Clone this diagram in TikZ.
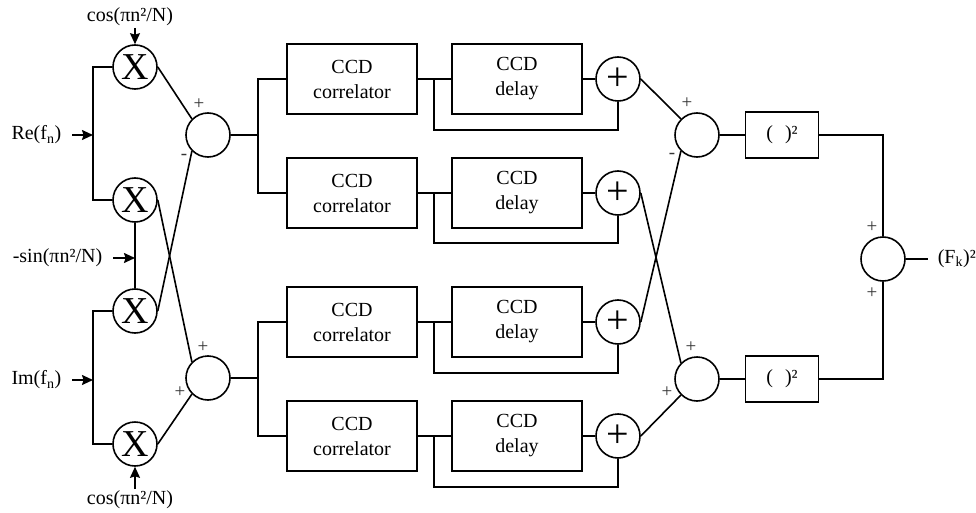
\documentclass[tikz,border=0pt]{standalone}
\usepackage{fontspec}
\setmainfont{Liberation Serif}
\usetikzlibrary{arrows.meta}
\begin{document}
\begin{tikzpicture}[x=1pt,y=-1pt,
  line width=1.6pt,
  every node/.style={font=\rmfamily\fontsize{20}{25}\selectfont},
  circ/.style={draw,circle,minimum size=44pt,inner sep=0pt},
  mult/.style={circ,font=\rmfamily\fontsize{38}{40}\selectfont},
  adder/.style={circ,font=\rmfamily\fontsize{40}{40}\selectfont},
  blk/.style={draw,minimum width=130pt,minimum height=70pt,inner sep=0pt,align=center,font=\rmfamily\fontsize{20}{25}\selectfont},
  sqbox/.style={draw,minimum width=73pt,minimum height=46pt,inner sep=0pt},
  sgn/.style={font=\rmfamily\fontsize{19}{19}\selectfont,text=black!80,inner sep=0pt},
  arr/.style={-{Stealth[length=11pt,width=10pt,inset=1.5pt]}},
]
\useasboundingbox (0,0) rectangle (976,513);

% multipliers
\node[mult] (m1) at (135,67) {X};
\node[mult] (m2) at (135,200) {X};
\node[mult] (m3) at (135,311) {X};
\node[mult] (m4) at (135,444) {X};

% input labels
\node[inner ysep=1pt] (cos1) at (130,17) {cos(πn²/N)};
\node[inner ysep=1pt] (cos2) at (130,500) {cos(πn²/N)};
\node[anchor=east,inner xsep=10pt] (re) at (72,135) {Re(f\textsubscript{n})};
\node[anchor=east,inner xsep=10pt] (im) at (72,380) {Im(f\textsubscript{n})};
\node[anchor=east,inner xsep=10pt] (sin) at (113,258) {-sin(πn²/N)};

\coordinate (reJ) at (93,135);
\coordinate (imJ) at (93,380);
\coordinate (sinJ) at (135,258);

\draw[arr] (cos1.south -| m1.north) -- (m1.north);
\draw[arr] (cos2.north -| m4.south) -- (m4.south);
\draw[arr] (re.east) -- (reJ);
\draw[arr] (im.east) -- (imJ);
\draw[arr] (sin.east) -- (sinJ);
\draw (m1.west) -| (reJ) |- (m2.west);
\draw (m3.west) -| (imJ) |- (m4.west);
\draw (m2.south) -- (m3.north);

% left sums
\node[circ] (sl1) at (208,135) {};
\node[circ] (sl2) at (208,378) {};
\draw (m1.east) -- (sl1.135);
\draw (m3.east) -- (sl1.225);
\draw (m2.east) -- (sl2.135);
\draw (m4.east) -- (sl2.225);
\node[sgn] (s1) at (199,104) {+};
\node[sgn] (s2) at (184,157) {-};
\node[sgn] (s3) at (203,347) {+};
\node[sgn] (s4) at (180,392) {+};

% correlators
\node[blk] (c1) at (352,79) {CCD\\correlator};
\node[blk] (c2) at (352,193) {CCD\\correlator};
\node[blk] (c3) at (352,322) {CCD\\correlator};
\node[blk] (c4) at (352,436) {CCD\\correlator};
\coordinate (b1) at (258,135);
\coordinate (b2) at (258,378);
\draw (sl1.east) -- (b1);
\draw (sl2.east) -- (b2);
\draw (c1.west) -| (b1) |- (c2.west);
\draw (c3.west) -| (b2) |- (c4.west);

% delays
\node[blk] (d1) at (517,79) {CCD\\delay};
\node[blk] (d2) at (517,193) {CCD\\delay};
\node[blk] (d3) at (517,322) {CCD\\delay};
\node[blk] (d4) at (517,436) {CCD\\delay};
\node[adder] (p1) at (618,79) {+};
\node[adder] (p2) at (618,193) {+};
\node[adder] (p3) at (618,322) {+};
\node[adder] (p4) at (618,436) {+};

\coordinate (t1) at (434,79);  \coordinate (u1) at (434,130);
\coordinate (t2) at (434,193); \coordinate (u2) at (434,243);
\coordinate (t3) at (434,322); \coordinate (u3) at (434,373);
\coordinate (t4) at (434,436); \coordinate (u4) at (434,487);

\draw (c1.east) -- (d1.west);
\draw (c2.east) -- (d2.west);
\draw (c3.east) -- (d3.west);
\draw (c4.east) -- (d4.west);
\draw (d1.east) -- (p1.west);
\draw (d2.east) -- (p2.west);
\draw (d3.east) -- (p3.west);
\draw (d4.east) -- (p4.west);
\draw (t1) -- (u1) -| (p1.south);
\draw (t2) -- (u2) -| (p2.south);
\draw (t3) -- (u3) -| (p3.south);
\draw (t4) -- (u4) -| (p4.south);

% right sums
\node[circ] (sr1) at (697,135) {};
\node[circ] (sr2) at (697,379) {};
\draw (p1.east) -- (sr1.135);
\draw (p3.east) -- (sr1.225);
\draw (p2.east) -- (sr2.135);
\draw (p4.east) -- (sr2.225);
\node[sgn] (s5) at (687,103) {+};
\node[sgn] (s6) at (672,156) {-};
\node[sgn] (s7) at (691,347) {+};
\node[sgn] (s8) at (667,392) {+};

% squares
\node[sqbox] (q1) at (782,135) {(\hspace{12pt})²};
\node[sqbox] (q2) at (782,379) {(\hspace{12pt})²};
\draw (sr1.east) -- (q1.west);
\draw (sr2.east) -- (q2.west);

% final sum
\node[circ] (sf) at (883,259) {};
\draw (q1.east) -| (sf.north);
\draw (q2.east) -| (sf.south);
\node[sgn] (s9) at (872,227) {+};
\node[sgn] (s10) at (872,293) {+};
\node[anchor=west,inner xsep=9pt] (out) at (928,259) {(F\textsubscript{k})²};
\draw (sf.east) -- (out.west);
\end{tikzpicture}
\end{document}
